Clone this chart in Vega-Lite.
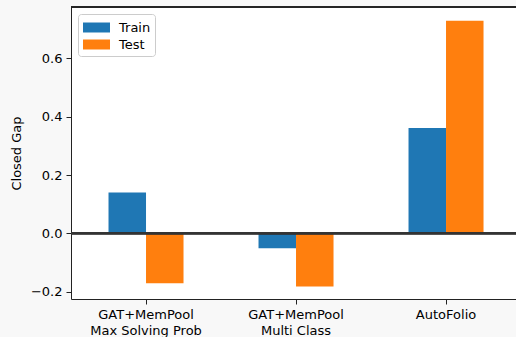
{
  "$schema": "https://vega.github.io/schema/vega-lite/v6.json",
  "width": 445,
  "height": 292,
  "autosize": {"type": "none"},
  "padding": {"left": 71, "top": 7, "right": 0, "bottom": 38},
  "background": "#f8f8f8",
  "config": {
    "view": {"stroke": null, "fill": "#ffffff"},
    "font": "DejaVu Sans",
    "axis": {
      "labelFont": "DejaVu Sans",
      "titleFont": "DejaVu Sans",
      "labelFontSize": 13,
      "titleFontSize": 13,
      "titleFontWeight": "normal",
      "labelColor": "#000000",
      "titleColor": "#000000",
      "domainColor": "#222222",
      "domainWidth": 1,
      "tickColor": "#222222",
      "tickSize": 5,
      "grid": false
    },
    "legend": {
      "labelFont": "DejaVu Sans",
      "labelFontSize": 13,
      "labelColor": "#000000"
    }
  },
  "data": {
    "values": [
      {"method": "GAT+MemPool\nMax Solving Prob", "split": "Train", "gap": 0.14},
      {"method": "GAT+MemPool\nMax Solving Prob", "split": "Test", "gap": -0.171},
      {"method": "GAT+MemPool\nMulti Class", "split": "Train", "gap": -0.051},
      {"method": "GAT+MemPool\nMulti Class", "split": "Test", "gap": -0.182},
      {"method": "AutoFolio", "split": "Train", "gap": 0.361},
      {"method": "AutoFolio", "split": "Test", "gap": 0.729}
    ]
  },
  "layer": [
    {
      "mark": {"type": "bar"},
      "encoding": {
        "x": {
          "field": "method",
          "type": "nominal",
          "sort": null,
          "scale": {"paddingInner": 0.5, "paddingOuter": 0.2333, "align": 0.536},
          "axis": {
            "title": null,
            "labelAngle": 0,
            "labelExpr": "split(datum.label, '\\n')",
            "labelPadding": 4,
            "labelLineHeight": 16
          }
        },
        "xOffset": {
          "field": "split",
          "type": "nominal",
          "sort": ["Train", "Test"],
          "scale": {"paddingInner": 0, "paddingOuter": 0}
        },
        "y": {
          "field": "gap",
          "type": "quantitative",
          "scale": {"domain": [-0.225, 0.776], "nice": false, "zero": false},
          "axis": {
            "title": "Closed Gap",
            "values": [-0.2, 0, 0.2, 0.4, 0.6],
            "labelExpr": "replace(format(datum.value, '.1f'), '-', '\u2212')",
            "labelPadding": 4,
            "titlePadding": 7
          }
        },
        "color": {
          "field": "split",
          "type": "nominal",
          "scale": {"domain": ["Train", "Test"], "range": ["#1f77b4", "#ff7f0e"]},
          "legend": {
            "title": null,
            "orient": "top-left",
            "offset": 7,
            "symbolType": "M-1.42,-0.526H1.42V0.526H-1.42Z",
            "symbolSize": 361,
            "symbolStrokeWidth": 0,
            "symbolOpacity": 1,
            "symbolOffset": 5,
            "labelOffset": 13,
            "rowPadding": 0,
            "padding": 4,
            "strokeColor": "#cccccc",
            "fillColor": "#ffffff",
            "cornerRadius": 3
          }
        }
      }
    },
    {
      "mark": {"type": "rule", "color": "#333333", "strokeWidth": 1.6},
      "encoding": {"y": {"datum": 0}}
    },
    {
      "mark": {"type": "rule", "color": "#222222", "strokeWidth": 1},
      "encoding": {"y": {"datum": 0.776}}
    }
  ]
}
